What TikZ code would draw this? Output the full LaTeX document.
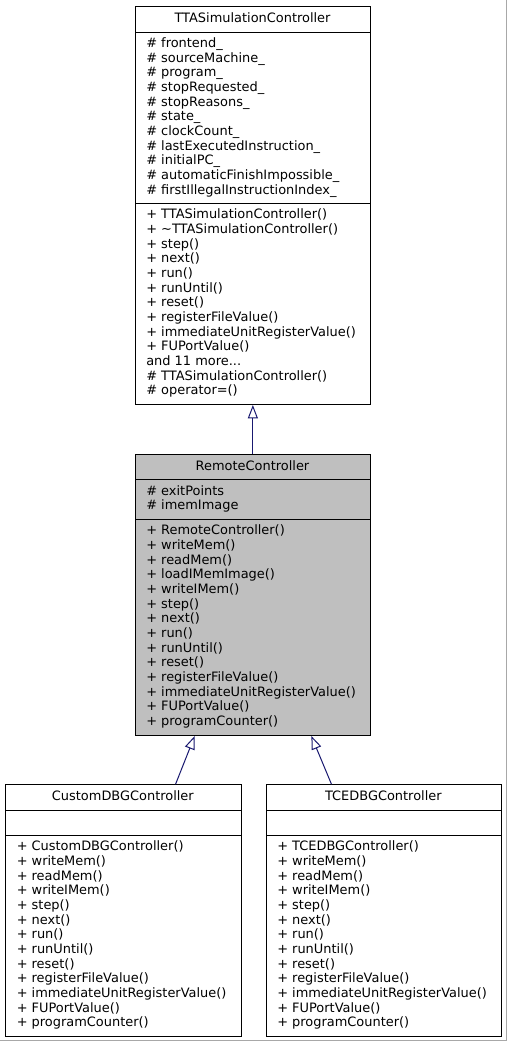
\documentclass[tikz,border=0pt]{standalone}
\usepackage{fontspec}
\setmainfont{DejaVu Sans}
\usetikzlibrary{arrows.meta,calc}
\definecolor{edgeblue}{HTML}{191970}
\definecolor{cgray}{HTML}{BFBFBF}
\definecolor{framegray}{HTML}{A8A8A8}
\tikzset{
  compart/.style={draw=black, line width=0.75pt, anchor=north west, inner sep=0pt, minimum width=176.8pt},
  titletxt/.style={anchor=base, inner sep=0pt, font=\fontsize{9.7}{11}\selectfont},
  listtxt/.style={anchor=north west, inner sep=0pt, align=left, font=\fontsize{9.7}{11}\selectfont},
  inherit/.style={draw=edgeblue, line width=0.75pt, -{Triangle[open, length=10pt, width=7.5pt, line width=0.75pt]}}
}
\begin{document}
\begin{tikzpicture}[x=0.75pt, y=-0.75pt]
\useasboundingbox (0,0) rectangle (507,1043);
\fill[white] (0,0) rectangle (507,1043);
\draw[framegray, line width=0.75pt] (506.3,0) -- (506.3,1040.8) -- (0,1040.8);

% ---------------- TTASimulationController
\node[compart, minimum height=19.3pt] (ttaT) at (134.5,6) {};
\node[compart, minimum height=128.5pt] (ttaA) at (134.5,31.7) {};
\node[compart, minimum height=150.75pt] (ttaM) at (134.5,203) {};
\node[titletxt] (ttaTt) at (252.5,22.5) {TTASimulationController};
\node[listtxt] (ttaAt) at (146,36.9) {\strut\# frontend\_\\\# sourceMachine\_\\\# program\_\\\# stopRequested\_\\\# stopReasons\_\\\# state\_\\\# clockCount\_\\\# lastExecutedInstruction\_\\\# initialPC\_\\\# automaticFinishImpossible\_\\\# firstIllegalInstructionIndex\_};
\node[listtxt] (ttaMt) at (146,208.2) {\strut+ TTASimulationController()\\+ \textasciitilde TTASimulationController()\\+ step()\\+ next()\\+ run()\\+ runUntil()\\+ reset()\\+ registerFileValue()\\+ immediateUnitRegisterValue()\\+ FUPortValue()\\and 11 more...\\\# TTASimulationController()\\\# operator=()};

% ---------------- RemoteController
\node[compart, fill=cgray, minimum height=19pt] (remT) at (134.5,454) {};
\node[compart, fill=cgray, minimum height=29.8pt] (remA) at (134.5,479.3) {};
\node[compart, fill=cgray, minimum height=162pt] (remM) at (134.5,519) {};
\node[titletxt] (remTt) at (252.5,470.5) {RemoteController};
\node[listtxt] (remAt) at (146,484.5) {\strut\# exitPoints\\\# imemImage};
\node[listtxt] (remMt) at (146,524.2) {\strut+ RemoteController()\\+ writeMem()\\+ readMem()\\+ loadIMemImage()\\+ writeIMem()\\+ step()\\+ next()\\+ run()\\+ runUntil()\\+ reset()\\+ registerFileValue()\\+ immediateUnitRegisterValue()\\+ FUPortValue()\\+ programCounter()};

% ---------------- CustomDBGController
\node[compart, minimum height=19.3pt] (cusT) at (5,784.3) {};
\node[compart, minimum height=18.75pt] (cusA) at (5,810) {};
\node[compart, minimum height=150.75pt] (cusM) at (5,835) {};
\node[titletxt] (cusTt) at (122.85,800.8) {CustomDBGController};
\node[listtxt] (cusMt) at (16.5,840.2) {\strut+ CustomDBGController()\\+ writeMem()\\+ readMem()\\+ writeIMem()\\+ step()\\+ next()\\+ run()\\+ runUntil()\\+ reset()\\+ registerFileValue()\\+ immediateUnitRegisterValue()\\+ FUPortValue()\\+ programCounter()};

% ---------------- TCEDBGController
\node[compart, minimum height=19.3pt] (tceT) at (265.5,784.3) {};
\node[compart, minimum height=18.75pt] (tceA) at (265.5,810) {};
\node[compart, minimum height=150.75pt] (tceM) at (265.5,835) {};
\node[titletxt] (tceTt) at (383.35,800.8) {TCEDBGController};
\node[listtxt] (tceMt) at (277,840.2) {\strut+ TCEDBGController()\\+ writeMem()\\+ readMem()\\+ writeIMem()\\+ step()\\+ next()\\+ run()\\+ runUntil()\\+ reset()\\+ registerFileValue()\\+ immediateUnitRegisterValue()\\+ FUPortValue()\\+ programCounter()};

% ---------------- inheritance
\draw[inherit] (remT.north) -- (ttaM.south);
\draw[inherit] ($(cusT.north)+(52.15,0)$) -- ($(remM.south)+(-58.2,0)$);
\draw[inherit] ($(tceT.north)+(-52.35,0)$) -- ($(remM.south)+(58.5,0)$);
\end{tikzpicture}
\end{document}
